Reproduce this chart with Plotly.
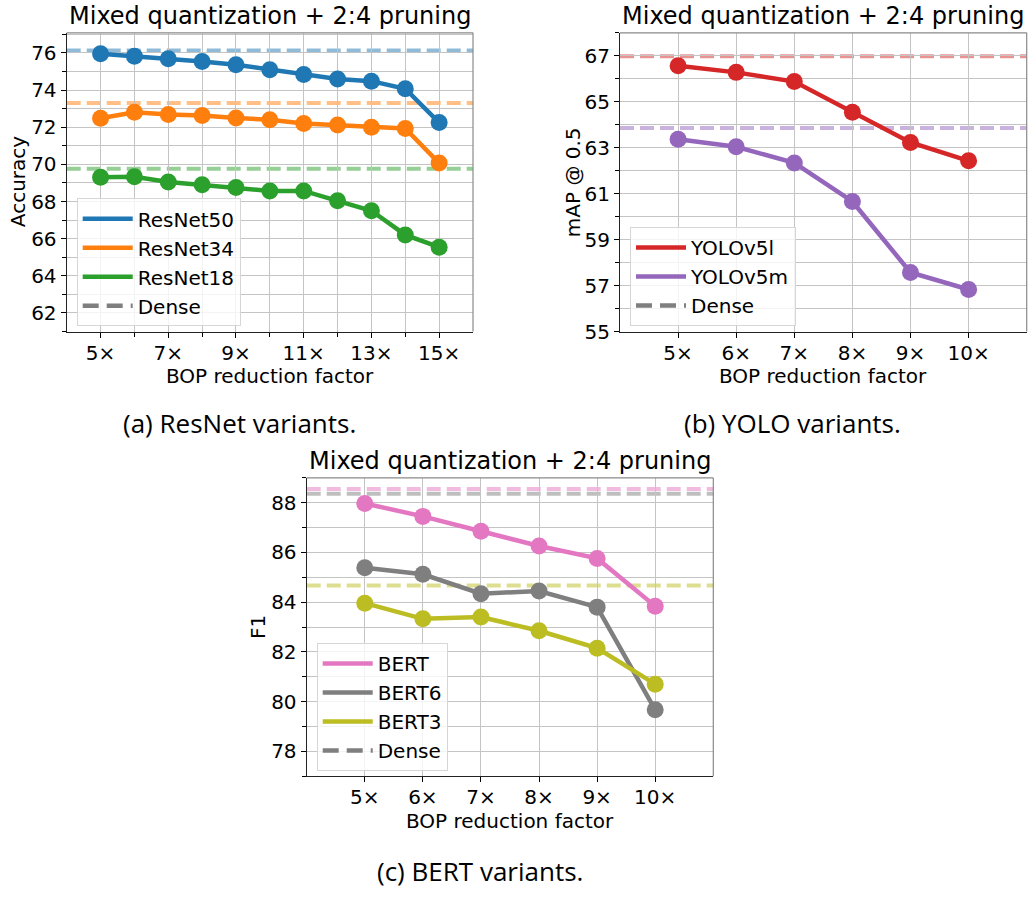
import plotly.graph_objects as go

# ---------------- data ----------------
resnet_factors = [5, 6, 7, 8, 9, 10, 11, 12, 13, 14, 15]
resnet50 = [75.95, 75.82, 75.68, 75.54, 75.36, 75.10, 74.84, 74.60, 74.48, 74.07, 72.25]
resnet34 = [72.48, 72.80, 72.68, 72.63, 72.50, 72.40, 72.20, 72.12, 72.00, 71.93, 70.07]
resnet18 = [69.30, 69.33, 69.05, 68.90, 68.75, 68.57, 68.57, 68.04, 67.50, 66.20, 65.54]
resnet_names = ["ResNet50", "ResNet34", "ResNet18"]
resnet_dense = [76.13, 73.31, 69.76]

yolo_factors = [5, 6, 7, 8, 9, 10]
yolov5l = [66.57, 66.28, 65.88, 64.54, 63.23, 62.43]
yolov5m = [63.37, 63.04, 62.34, 60.66, 57.57, 56.83]
yolo_names = ["YOLOv5l", "YOLOv5m"]
yolo_dense = [66.98, 63.86]

bert_factors = [5, 6, 7, 8, 9, 10]
bert = [87.97, 87.45, 86.85, 86.26, 85.76, 83.84]
bert6 = [85.38, 85.12, 84.34, 84.45, 83.80, 79.67]
bert3 = [83.96, 83.33, 83.40, 82.85, 82.15, 80.70]
bert_names = ["BERT", "BERT6", "BERT3"]
bert_dense = [88.55, 88.36, 84.67]

title_text = "Mixed quantization + 2:4 pruning"
xlabel = "BOP reduction factor"
captions = ["(a) ResNet variants.", "(b) YOLO variants.", "(c) BERT variants."]

# ---------------- styling ----------------
W, H = 1029, 899
FONT = "DejaVu Sans"
C = {"ResNet50": "#1f77b4", "ResNet34": "#ff7f0e", "ResNet18": "#2ca02c",
     "YOLOv5l": "#d62728", "YOLOv5m": "#9467bd",
     "BERT": "#e377c2", "BERT6": "#7f7f7f", "BERT3": "#bcbd22"}


def rgba(hexc, a):
    h = hexc.lstrip("#")
    return f"rgba({int(h[0:2],16)},{int(h[2:4],16)},{int(h[4:6],16)},{a})"


def px_x(p):
    return p / W


def px_y(p):
    return 1 - p / H


panels = [
    dict(ax="", dom_x=(66.7, 473.0), dom_y=(33.3, 336.0), xr=[4, 16], yr=[61, 77.08],
         xt=resnet_factors[::2], xminor=resnet_factors, ydt=2, y0=62, ylabel="Accuracy",
         names=resnet_names, series=[resnet50, resnet34, resnet18], dense=resnet_dense,
         factors=resnet_factors, legend="legend", leg=(76.7, 201.0), ylab_x=18, cap=(239, 429)),
    dict(ax="2", dom_x=(620.0, 1026.7), dom_y=(33.3, 336.0), xr=[4, 11], yr=[55, 68],
         xt=yolo_factors, xminor=yolo_factors, ydt=2, y0=55, ylabel="mAP @ 0.5",
         names=yolo_names, series=[yolov5l, yolov5m], dense=yolo_dense,
         factors=yolo_factors, legend="legend2", leg=(630.0, 230.0), ylab_x=573, cap=(792, 429)),
    dict(ax="3", dom_x=(306.7, 713.3), dom_y=(484.3, 786.7), xr=[4, 11], yr=[77, 89],
         xt=bert_factors, xminor=bert_factors, ydt=2, y0=78, ylabel="F1",
         names=bert_names, series=[bert, bert6, bert3], dense=bert_dense,
         factors=bert_factors, legend="legend3", leg=(316.7, 651.7), ylab_x=258, cap=(480, 883)),
]

fig = go.Figure()
layout = dict(width=W, height=H, margin=dict(l=0, r=0, t=0, b=0),
              paper_bgcolor="white", plot_bgcolor="white", showlegend=True,
              font=dict(family=FONT, size=20, color="black"))
shapes = []
annotations = []

GRID = "#c4c4c4"

for p in panels:
    ax = p["ax"]
    xa, ya = "x" + ax, "y" + ax
    # data traces
    for name, vals in zip(p["names"], p["series"]):
        fig.add_trace(go.Scatter(
            x=p["factors"], y=vals, mode="lines+markers", name=name,
            line=dict(color=C[name], width=4.5),
            marker=dict(size=17, color=C[name]),
            xaxis=xa, yaxis=ya, showlegend=False, legend=p["legend"]))
    # legend-only entries (lines only, as in the reference legend)
    for name in p["names"]:
        fig.add_trace(go.Scatter(
            x=[None], y=[None], mode="lines", name=name,
            line=dict(color=C[name], width=4.5),
            xaxis=xa, yaxis=ya, showlegend=True, legend=p["legend"],
            legendgroup=p["legend"] + name))
    fig.add_trace(go.Scatter(
        x=[None], y=[None], mode="lines", name="Dense",
        line=dict(color="#7f7f7f", width=4.5, dash="16px,8px"),
        xaxis=xa, yaxis=ya, showlegend=True, legend=p["legend"],
        legendgroup=p["legend"] + "Dense"))
    # dense reference lines
    for name, d in zip(p["names"], p["dense"]):
        shapes.append(dict(type="line", xref=xa + " domain", yref=ya, x0=0, x1=1, y0=d, y1=d,
                           line=dict(color=rgba(C[name], 0.5), width=4, dash="14px,6px"),
                           layer="below"))
    # top/right gray spines
    shapes.append(dict(type="line", xref=xa + " domain", yref=ya + " domain", x0=0, x1=1, y0=1, y1=1,
                       line=dict(color="#8a8a8a", width=1.2), layer="above"))
    shapes.append(dict(type="line", xref=xa + " domain", yref=ya + " domain", x0=1, x1=1, y0=0, y1=1,
                       line=dict(color="#8a8a8a", width=1.2), layer="above"))

    layout["xaxis" + ax] = dict(
        domain=[px_x(p["dom_x"][0]), px_x(p["dom_x"][1])], anchor=ya, range=p["xr"],
        tickmode="array", tickvals=p["xt"], ticktext=[f"{v}×" for v in p["xt"]],
        ticks="outside", ticklen=5, tickwidth=1, tickcolor="black", ticklabelstandoff=-2,
        showgrid=True, gridcolor=GRID, gridwidth=1,
        showline=True, linecolor="#222222", linewidth=1.2, zeroline=False,
        tickfont=dict(size=20, family=FONT, color="black"),
        minor=dict(tickmode="array", tickvals=p["xminor"], ticks="outside", ticklen=4,
                   tickcolor="black", showgrid=True, gridcolor=GRID, gridwidth=1))
    layout["yaxis" + ax] = dict(
        domain=[px_y(p["dom_y"][1]), px_y(p["dom_y"][0])], anchor=xa, range=p["yr"],
        tickmode="linear", tick0=p["y0"], dtick=p["ydt"],
        ticks="outside", ticklen=5, tickwidth=1, tickcolor="black",
        showgrid=True, gridcolor=GRID, gridwidth=1,
        showline=True, linecolor="#222222", linewidth=1.2, zeroline=False,
        tickfont=dict(size=20, family=FONT, color="black"),
        minor=dict(dtick=1, tick0=p["y0"], ticks="outside", ticklen=4, tickcolor="black",
                   showgrid=True, gridcolor=GRID, gridwidth=1))
    layout[p["legend"]] = dict(
        x=px_x(p["leg"][0]), y=px_y(p["leg"][1]), xanchor="left", yanchor="top",
        xref="paper", yref="paper",
        bgcolor="rgba(255,255,255,0.8)", bordercolor="#d6d6d6", borderwidth=1,
        font=dict(size=20, family=FONT, color="black"), tracegroupgap=4,
        itemwidth=50, traceorder="normal")

    cx = (p["dom_x"][0] + p["dom_x"][1]) / 2
    cy = (p["dom_y"][0] + p["dom_y"][1]) / 2
    # title
    annotations.append(dict(text=title_text, x=px_x(cx), y=px_y(p["dom_y"][0]), xref="paper", yref="paper",
                            xanchor="center", yanchor="bottom", yshift=1, showarrow=False,
                            font=dict(size=24, family=FONT, color="black")))
    # x axis title
    annotations.append(dict(text=xlabel, x=px_x(cx), y=px_y(p["dom_y"][1] + 45), xref="paper", yref="paper",
                            xanchor="center", yanchor="middle", showarrow=False,
                            font=dict(size=20, family=FONT, color="black")))
    # y axis title
    annotations.append(dict(text=p["ylabel"], x=px_x(p["ylab_x"]), y=px_y(cy), xref="paper", yref="paper",
                            xanchor="center", yanchor="middle", textangle=-90, showarrow=False,
                            font=dict(size=20, family=FONT, color="black")))

for p, cap in zip(panels, captions):
    annotations.append(dict(text=cap, x=px_x(p["cap"][0]), y=px_y(p["cap"][1]), xref="paper", yref="paper",
                            xanchor="center", yanchor="middle", showarrow=False,
                            font=dict(size=26, family="Open Sans", color="black")))

layout["shapes"] = shapes
layout["annotations"] = annotations
fig.update_layout(**layout)
fig.write_html("out.html", config={"displayModeBar": False},
               post_script="document.body.style.margin='0';document.body.style.overflow='hidden';")
